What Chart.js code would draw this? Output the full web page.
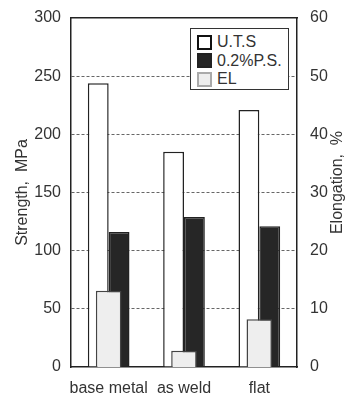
<!DOCTYPE html>
<html>
<head>
<meta charset="utf-8">
<script src="https://cdn.jsdelivr.net/npm/chart.js@4/dist/chart.umd.min.js"></script>
<style>
  html, body { margin: 0; padding: 0; background: #fff; }
  #wrap { position: relative; width: 352px; height: 397px; }
  #legend {
    position: absolute; left: 190px; top: 28px; width: 97px; height: 56px;
    border: 1.5px solid #333; background: #fff;
    font-family: "Liberation Sans", Arial, sans-serif; font-size: 16px; color: #333;
    padding-top: 4px; box-sizing: content-box;
  }
  #legend .row { display: flex; align-items: center; height: 18.5px; padding-left: 6px; }
  #legend .sw { width: 15px; height: 15px; margin-right: 5px; box-sizing: border-box; }
</style>
</head>
<body>
<div id="wrap">
  <canvas id="c" width="352" height="397"></canvas>
  <div id="legend"></div>
</div>
<script>
const categories = ["base metal", "as weld", "flat"];
const utsValues = [244, 185, 221];      // U.T.S, MPa
const psValues = [116, 129, 121];       // 0.2%P.S., MPa
const elValues = [13.1, 2.8, 8.2];      // EL, %
const seriesNames = ["U.T.S", "0.2%P.S.", "EL"];
const strengthTicks = [0, 50, 100, 150, 200, 250, 300];
const elongTicks = [0, 10, 20, 30, 40, 50, 60];

const FONT = "'Liberation Sans', Arial, sans-serif";
const textColor = "#333";

const datasets = [
  { label: seriesNames[0], data: utsValues, yAxisID: "y", backgroundColor: "#ffffff",
    borderColor: "#222", borderWidth: 1.5, categoryPercentage: 0.553, barPercentage: 1.0, order: 1 },
  { label: seriesNames[1], data: psValues, yAxisID: "y", backgroundColor: "#262626",
    borderColor: "#222", borderWidth: 1.5, categoryPercentage: 0.553, barPercentage: 1.0, order: 1 },
  { label: seriesNames[2], data: elValues, yAxisID: "y2", backgroundColor: "#eeeeee",
    borderColor: "#444", borderWidth: 1.5, grouped: false, categoryPercentage: 1.0, barPercentage: 0.34, order: 0 }
];

// legend (HTML)
const legend = document.getElementById("legend");
const swatchBorders = ["2.5px solid #111", "2px solid #222", "2px solid #aaa"];
datasets.forEach((ds, i) => {
  const row = document.createElement("div");
  row.className = "row";
  const sw = document.createElement("span");
  sw.className = "sw";
  sw.style.background = ds.backgroundColor;
  sw.style.border = swatchBorders[i];
  const tx = document.createElement("span");
  tx.textContent = ds.label;
  row.appendChild(sw); row.appendChild(tx);
  legend.appendChild(row);
});

const rightTitle = {
  id: "rightTitle",
  afterDraw(chart) {
    const ctx = chart.ctx;
    ctx.save();
    ctx.translate(338, (chart.chartArea.top + chart.chartArea.bottom) / 2 - 10);
    ctx.rotate(-Math.PI / 2);
    ctx.font = "16px " + FONT;
    ctx.fillStyle = textColor;
    ctx.textAlign = "center";
    ctx.textBaseline = "middle";
    ctx.fillText("Elongation,  %", 0, 0);
    ctx.restore();
  }
};

function fixVertical(width) {
  return function (s) { s.width = width; s.paddingTop = 0; s.paddingBottom = 0; };
}

new Chart(document.getElementById("c"), {
  type: "bar",
  data: { labels: categories, datasets },
  options: {
    responsive: false,
    animation: false,
    layout: { padding: 0 },
    plugins: { legend: { display: false }, tooltip: { enabled: false } },
    scales: {
      x: {
        position: "bottom",
        grid: { display: false, drawTicks: false },
        border: { display: true, color: "#222", width: 1.5 },
        ticks: { color: textColor, font: { family: FONT, size: 16 }, padding: 12, maxRotation: 0, autoSkip: false },
        afterFit(s) { s.height = 30; }
      },
      xTop: {
        type: "category", labels: categories, position: "top",
        grid: { display: false, drawTicks: false },
        border: { display: true, color: "#222", width: 1.5 },
        ticks: { display: false },
        afterFit(s) { s.height = 18; }
      },
      y: {
        position: "left", min: 0, max: 300,
        afterBuildTicks(s) { s.ticks = strengthTicks.map(v => ({ value: v })); },
        grid: {
          drawTicks: false,
          color: ctx => (ctx.tick && (ctx.tick.value === 0 || ctx.tick.value === 300)) ? "rgba(0,0,0,0)" : "#666",
          lineWidth: 1
        },
        border: { display: true, color: "#222", width: 1.5, dash: [3, 2] },
        ticks: { color: textColor, font: { family: FONT, size: 16 }, padding: 10 },
        title: { display: true, text: "Strength,  MPa", color: textColor, font: { family: FONT, size: 16 }, padding: { top: 13, bottom: 2 } },
        afterFit: fixVertical(71)
      },
      y2: {
        position: "right", min: 0, max: 60,
        afterBuildTicks(s) { s.ticks = elongTicks.map(v => ({ value: v })); },
        grid: { display: false, drawTicks: false },
        border: { display: true, color: "#222", width: 1.5 },
        ticks: { color: textColor, font: { family: FONT, size: 16 }, padding: 13 },
        afterFit: fixVertical(55)
      }
    }
  },
  plugins: [rightTitle]
});
</script>
</body>
</html>
